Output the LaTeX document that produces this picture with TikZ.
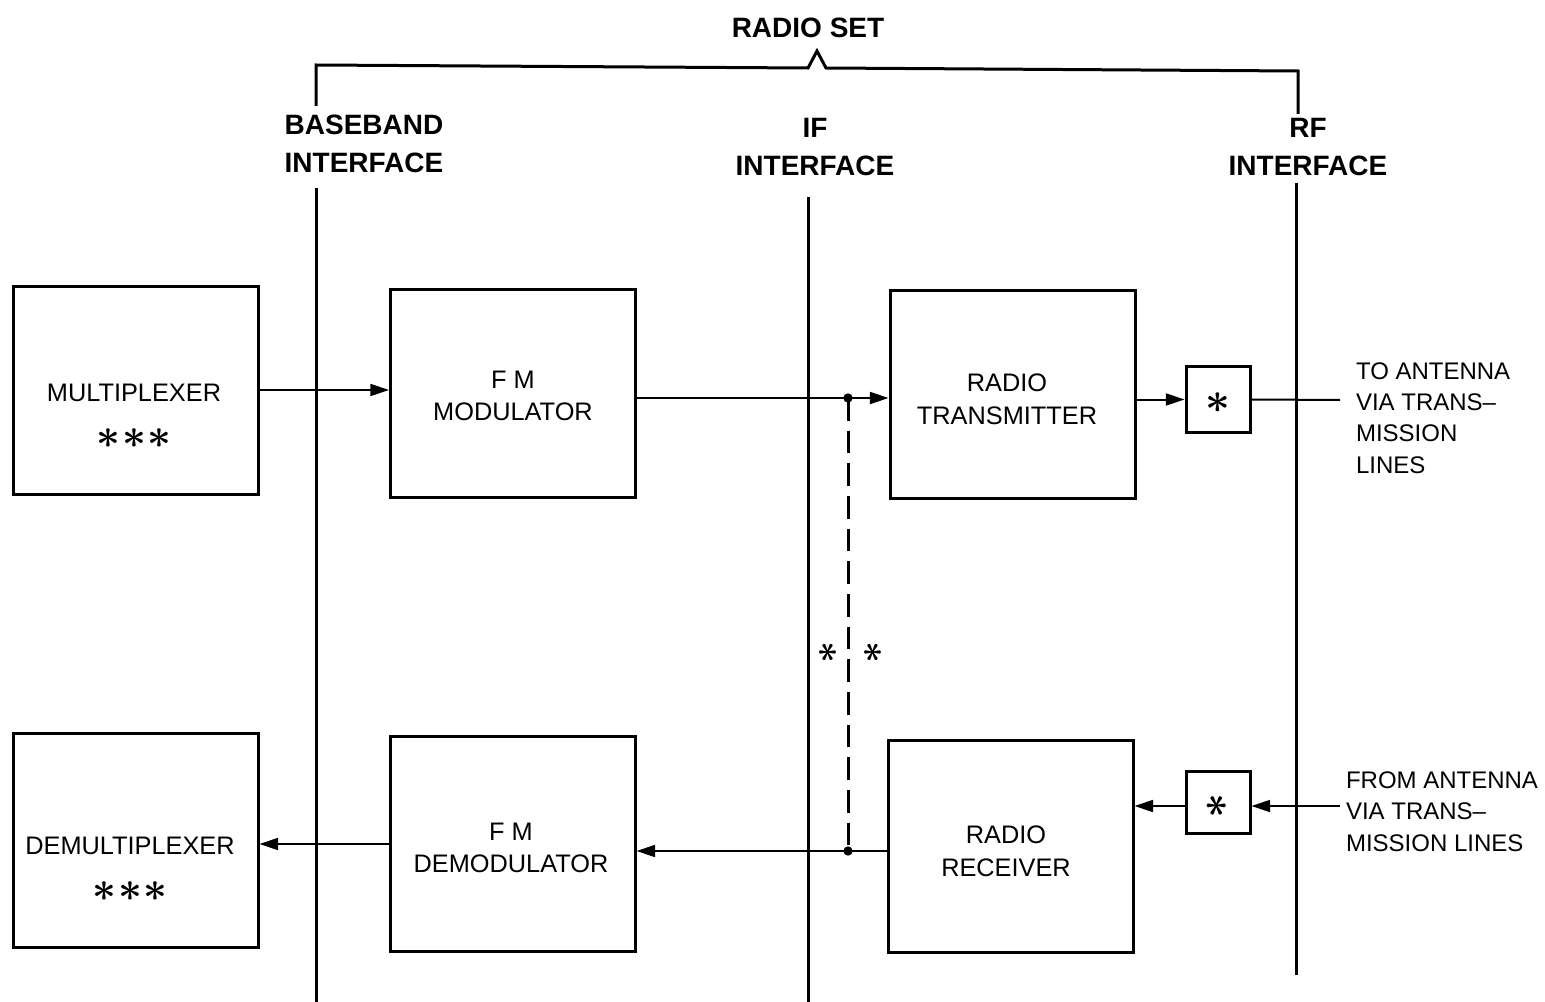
\documentclass[tikz,border=0pt]{standalone}
\usepackage{fontspec}
\setmainfont{Liberation Sans}
\usetikzlibrary{arrows.meta}
\tikzset{every picture/.style={line width=1.5pt}}
\tikzset{
	block/.style={draw, line width=2.25pt, minimum width=183.75pt, minimum height=156pt, inner sep=0pt},
	smallblock/.style={draw, line width=2.25pt, minimum width=48pt, minimum height=49.5pt, inner sep=0pt},
	lbl/.style={font=\fontsize{19}{24.5}\selectfont, align=center, inner sep=0pt},
	sidelbl/.style={font=\fontsize{18}{23.5}\selectfont, align=left, anchor=west, inner sep=0pt},
	hdr/.style={font=\bfseries\fontsize{21}{29}\selectfont, align=center, inner sep=0pt},
	star/.style={font=\boldmath\fontsize{30}{30}\selectfont, scale=#1, transform shape, inner sep=0pt},
	sig/.style={-{Triangle[length=14pt,width=9pt]}},
	iface/.style={line width=2.25pt},
	ctrl/.style={line width=2.25pt, dash pattern=on 17pt off 7.5pt}}

\begin{document}
\begin{tikzpicture}[x=0.75pt,y=0.75pt,yscale=-1,xscale=1]
	\useasboundingbox (0,0) rectangle (1545,1002);

	%Straight Lines [interfaces]
	\draw[iface] (316,188) -- (316,1002);
	\draw[iface] (808,197) -- (808,1002);
	\draw[iface] (1296,183) -- (1296,975);
	%Straight Lines [radio set bracket]
	\draw[iface] (316,106) -- (316,65) -- (808,68) -- (817,51) -- (826,68) -- (1298,71) -- (1298,114);

	%Shape: Rectangle [top row]
	\node[block] (mux) at (135.5,390) {};
	\node[block] (mod) at (513,393) {};
	\node[block] (tx) at (1012.5,394.5) {};
	\node[smallblock] (txstar) at (1218,399.5) {};
	%Shape: Rectangle [bottom row]
	\node[block, minimum height=161pt] (demux) at (135.5,840.5) {};
	\node[block, minimum height=161pt] (demod) at (512.5,844) {};
	\node[block, minimum height=159pt] (rx) at (1010.5,846.5) {};
	\node[smallblock, minimum height=47pt] (rxstar) at (1218,802.5) {};

	%Junctions
	\coordinate (jtx) at (848,398);
	\coordinate (jrx) at (848,851);
	\coordinate (toant) at (1340,400);
	\coordinate (fromant) at (1340,806);

	%Straight Lines [transmit path]
	\draw[sig] (mux.east) -- (mux.east -| mod.west);
	\draw (mod.east |- jtx) -- (jtx);
	\draw[sig] (jtx) -- (jtx -| tx.west);
	\draw[sig] (tx.east |- txstar.west) -- (txstar.west);
	\draw (txstar.east) -- (toant);
	%Straight Lines [receive path]
	\draw[sig] (fromant) -- (fromant -| rxstar.east);
	\draw[sig] (rxstar.west |- fromant) -- (fromant -| rx.east);
	\draw (rx.west |- jrx) -- (jrx);
	\draw[sig] (jrx) -- (jrx -| demod.east);
	\draw[sig] (demod.west) -- (demod.west -| demux.east);
	%Dashed Lines [if link]
	\draw[ctrl] (jtx) -- (jrx);
	\fill (jtx) circle (3.5pt);
	\fill (jrx) circle (3.5pt);

	% Text Node
	\node[hdr] (radioset) at (808,28) {RADIO SET};
	% Text Node
	\node[hdr] (bbif) at (364,144) {BASEBAND\\INTERFACE};
	% Text Node
	\node[hdr] (ifif) at (815,147) {IF\\INTERFACE};
	% Text Node
	\node[hdr] (rfif) at (1308,147) {RF\\INTERFACE};
	% Text Node
	\node[lbl] (muxtxt) at (134,393) {MULTIPLEXER};
	\node[star=1.25] (muxast) at (134,437) {$\ast$\hspace{1pt}$\ast$\hspace{1pt}$\ast$};
	% Text Node
	\node[lbl] (modtxt) at (513,396) {F M\\MODULATOR};
	% Text Node
	\node[lbl] (txtxt) at (1007,399.5) {RADIO\\TRANSMITTER};
	% Text Node
	\node[star=1.3] (txast) at (1218,402) {$\ast$};
	% Text Node
	\node[sidelbl] (totxt) at (1355,418) {TO ANTENNA\\VIA TRANS--\\MISSION\\LINES};
	% Text Node
	\node[lbl] (demuxtxt) at (130,846) {DEMULTIPLEXER};
	\node[star=1.25] (demuxast) at (130,890) {$\ast$\hspace{1pt}$\ast$\hspace{1pt}$\ast$};
	% Text Node
	\node[lbl] (demodtxt) at (511,848) {F M\\DEMODULATOR};
	% Text Node
	\node[lbl] (rxtxt) at (1006,851) {RADIO\\RECEIVER};
	% Text Node
	\node[star=1.3, rotate=90] (rxast) at (1217,806) {$\ast$};
	% Text Node
	\node[star=1.15, rotate=90] (ifastl) at (828,652) {$\ast$};
	\node[star=1.15, rotate=90] (ifastr) at (873,652) {$\ast$};
	% Text Node
	\node[sidelbl] (fromtxt) at (1345,811.5) {FROM ANTENNA\\VIA TRANS--\\MISSION LINES};

\end{tikzpicture}
\end{document}
